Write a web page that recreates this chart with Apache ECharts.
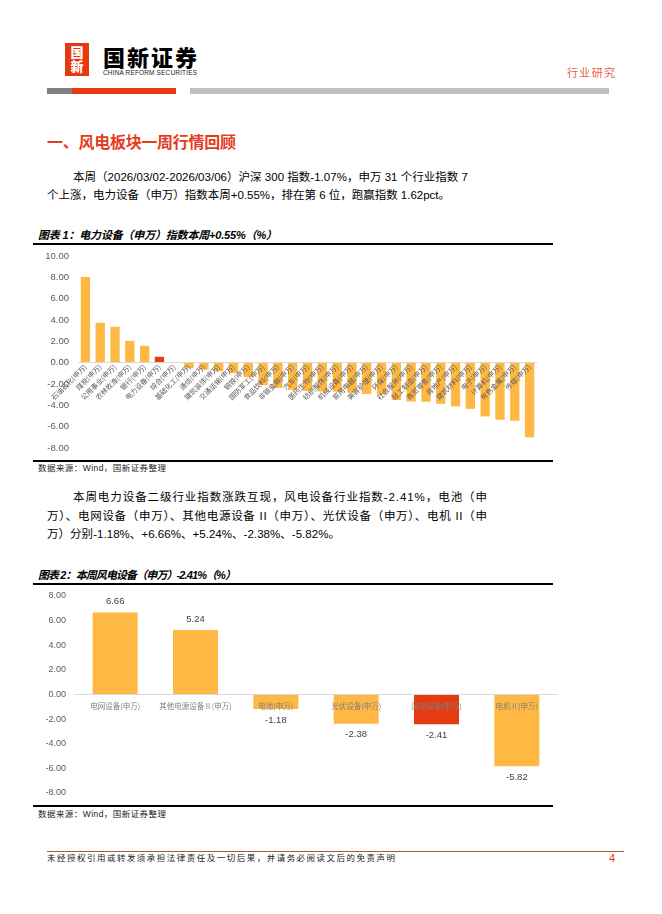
<!DOCTYPE html>
<html><head><meta charset="utf-8">
<script src="https://cdn.jsdelivr.net/npm/echarts@6/dist/echarts.min.js"></script>
<style>
html,body{margin:0;padding:0;background:#fff;}
body{width:662px;height:914px;position:relative;overflow:hidden;font-family:"Liberation Sans","Noto Sans CJK SC",sans-serif;color:#000;}
.t{position:absolute;white-space:nowrap;line-height:1;}
.hr{position:absolute;background:#000;}
#c1,#c2{position:absolute;left:0;width:662px;}
</style></head><body>

<div style="position:absolute;left:65px;top:43px;width:24px;height:33px;background:#E8380D;"></div>
<div class="t" style="left:65px;top:45px;width:24px;text-align:center;color:#fff;font-weight:900;font-size:13px;font-family:'Noto Sans CJK SC';line-height:14px;">国<br>新</div>
<div class="t fit" data-w="94" style="left:103px;top:45px;font-size:22px;font-weight:900;font-family:'Noto Sans CJK SC';">国新证券</div>
<div class="t fit" data-w="94" style="left:103px;top:70px;font-size:6.5px;color:#222;">CHINA REFORM SECURITIES</div>
<div class="t fit" data-w="48" style="left:567px;top:67px;font-size:11px;color:#E8604A;font-family:'Noto Sans CJK SC';">行业研究</div>
<div style="position:absolute;left:47px;top:88px;width:25px;height:6px;background:#808080;"></div>
<div style="position:absolute;left:72px;top:88px;width:104px;height:6px;background:#E8380D;"></div>
<div style="position:absolute;left:190px;top:88px;width:419px;height:6px;background:#BFBFBF;"></div>

<div class="t fit" data-w="189" style="left:47px;top:133px;font-size:16px;font-weight:bold;color:#E63C1E;font-family:'Noto Sans CJK SC';">一、风电板块一周行情回顾</div>
<div class="t fit" data-w="395" style="left:73px;top:172px;font-size:11.5px;">本周（2026/03/02-2026/03/06）沪深 300 指数-1.07%，申万 31 个行业指数 7</div>
<div class="t fit" data-w="403" style="left:47px;top:190px;font-size:11.5px;">个上涨，电力设备（申万）指数本周+0.55%，排在第 6 位，跑赢指数 1.62pct。</div>

<div class="t fit" data-w="239" style="left:38px;top:230px;font-size:11px;font-weight:bold;font-style:italic;">图表 1：电力设备（申万）指数本周+0.55%（%）</div>
<div class="hr" style="left:33px;top:243px;width:520px;height:1.5px;"></div>
<div id="c1" style="top:245px;height:215px;"></div>
<div class="hr" style="left:33px;top:460px;width:520px;height:1.5px;"></div>
<div class="t fit" data-w="128" style="left:38px;top:464px;font-size:8.5px;color:#222;">数据来源：Wind，国新证券整理</div>

<div class="t fit" data-w="414" style="left:73px;top:492px;font-size:11.5px;">本周电力设备二级行业指数涨跌互现，风电设备行业指数-2.41%，电池（申</div>
<div class="t fit" data-w="440" style="left:47px;top:511px;font-size:11.5px;">万）、电网设备（申万）、其他电源设备 II（申万）、光伏设备（申万）、电机 II（申</div>
<div class="t fit" data-w="293" style="left:47px;top:529px;font-size:11.5px;">万）分别-1.18%、+6.66%、+5.24%、-2.38%、-5.82%。</div>

<div class="t fit" data-w="198" style="left:38px;top:570px;font-size:11px;font-weight:bold;font-style:italic;">图表 2：本周风电设备（申万）-2.41%（%）</div>
<div class="hr" style="left:33px;top:583px;width:520px;height:1.5px;"></div>
<div id="c2" style="top:585px;height:220px;"></div>
<div class="hr" style="left:33px;top:805px;width:520px;height:1.5px;"></div>
<div class="t fit" data-w="128" style="left:38px;top:810px;font-size:8.5px;color:#222;">数据来源：Wind，国新证券整理</div>

<div style="position:absolute;left:47px;top:851px;width:577px;height:1px;background:#B5533C;"></div>
<div class="t fit" data-w="348" style="left:47px;top:854px;font-size:8.5px;color:#222;">未经授权引用或转发须承担法律责任及一切后果，并请务必阅读文后的免责声明</div>
<div class="t" style="left:609px;top:853px;font-size:11px;color:#E8380D;">4</div>

<script>
// fit text widths
document.querySelectorAll('.fit').forEach(function(el){
  var target = parseFloat(el.getAttribute('data-w'));
  var n = Array.from(el.textContent).length;
  var w = el.getBoundingClientRect().width;
  if (n > 1) el.style.letterSpacing = ((target - w) / (n - 1)) + 'px';
});

// ---- Chart 1 data ----
const industries = ['石油石化(申万)','煤炭(申万)','公用事业(申万)','农林牧渔(申万)','银行(申万)','电力设备(申万)','综合(申万)','基础化工(申万)','通信(申万)','建筑装饰(申万)','交通运输(申万)','钢铁(申万)','国防军工(申万)','食品饮料(申万)','非银金融(申万)','汽车(申万)','医药生物(申万)','纺织服饰(申万)','机械设备(申万)','家用电器(申万)','美容护理(申万)','环保(申万)','社会服务(申万)','轻工制造(申万)','商贸零售(申万)','房地产(申万)','建筑材料(申万)','电子(申万)','计算机(申万)','有色金属(申万)','传媒(申万)'];
const weeklyChange = [8.03,3.74,3.36,2.04,1.58,0.55,0.02,-0.52,-0.63,-0.80,-0.98,-1.35,-2.10,-2.35,-2.55,-2.65,-2.70,-2.72,-2.80,-2.93,-3.00,-3.50,-3.64,-3.66,-3.86,-4.10,-4.33,-5.04,-5.35,-5.45,-7.00];
const highlight1 = '电力设备(申万)';
const yTicks1 = {min:-8, max:10, interval:2};

// ---- Chart 2 data ----
const subIndustries = ['电网设备(申万)','其他电源设备Ⅱ(申万)','电池(申万)','光伏设备(申万)','风电设备(申万)','电机Ⅱ(申万)'];
const subChange = [6.66,5.24,-1.18,-2.38,-2.41,-5.82];
const highlight2 = '风电设备(申万)';
const yTicks2 = {min:-8, max:8, interval:2};

const YEL = '#FFB843', RED = '#E63A12';

// offset that moves the category axis (line + labels) up to the value 0
function zeroOffset(h, top, bottom, t){
  var gh = h - top - bottom;
  return -gh * (0 - t.min) / (t.max - t.min);
}

const g1 = {left:78,right:125,top:11,bottom:12};
const c1 = echarts.init(document.getElementById('c1'), null, {renderer:'canvas'});
c1.setOption({
  animation:false,
  grid:g1,
  xAxis:{type:'category',data:industries,z:10,
    offset: zeroOffset(215, g1.top, g1.bottom, yTicks1),
    axisLine:{onZero:false,lineStyle:{color:'#D9D9D9',width:1}},
    axisTick:{show:false},
    axisLabel:{interval:0,rotate:45,fontSize:7,color:'#595959',margin:3,fontFamily:'Noto Sans CJK SC'}},
  yAxis:{type:'value',min:yTicks1.min,max:yTicks1.max,interval:yTicks1.interval,
    axisLine:{show:false},axisTick:{show:false},splitLine:{show:false},
    axisLabel:{formatter:function(v){return v.toFixed(2);},fontSize:9.5,color:'#595959',margin:9,fontFamily:'Liberation Sans'}},
  series:[{type:'bar',barWidth:'63%',z:1,
    data:weeklyChange.map(function(v,i){return {value:v,itemStyle:{color:industries[i]===highlight1?RED:YEL}};})}]
});

const g2 = {left:75,right:105,top:11,bottom:12};
const c2 = echarts.init(document.getElementById('c2'), null, {renderer:'canvas'});
c2.setOption({
  animation:false,
  grid:g2,
  xAxis:{type:'category',data:subIndustries,z:10,
    offset: zeroOffset(220, g2.top, g2.bottom, yTicks2),
    axisLine:{onZero:false,lineStyle:{color:'#D9D9D9',width:1}},
    axisTick:{show:false},
    axisLabel:{interval:0,fontSize:7.5,color:'#7F7F7F',margin:8,fontFamily:'Noto Sans CJK SC'}},
  yAxis:{type:'value',min:yTicks2.min,max:yTicks2.max,interval:yTicks2.interval,
    axisLine:{show:false},axisTick:{show:false},splitLine:{show:false},
    axisLabel:{formatter:function(v){return v.toFixed(2);},fontSize:9,color:'#595959',margin:9,fontFamily:'Liberation Sans'}},
  series:[{type:'bar',barWidth:'56%',z:1,
    label:{show:true,fontSize:9.5,color:'#404040',fontFamily:'Liberation Sans',distance:6,
      formatter:function(p){return p.value.toFixed(2);}},
    data:subChange.map(function(v,i){return {value:v,
      label:{position:v>=0?'top':'bottom'},
      itemStyle:{color:subIndustries[i]===highlight2?RED:YEL}};})}]
});
</script>
</body></html>
